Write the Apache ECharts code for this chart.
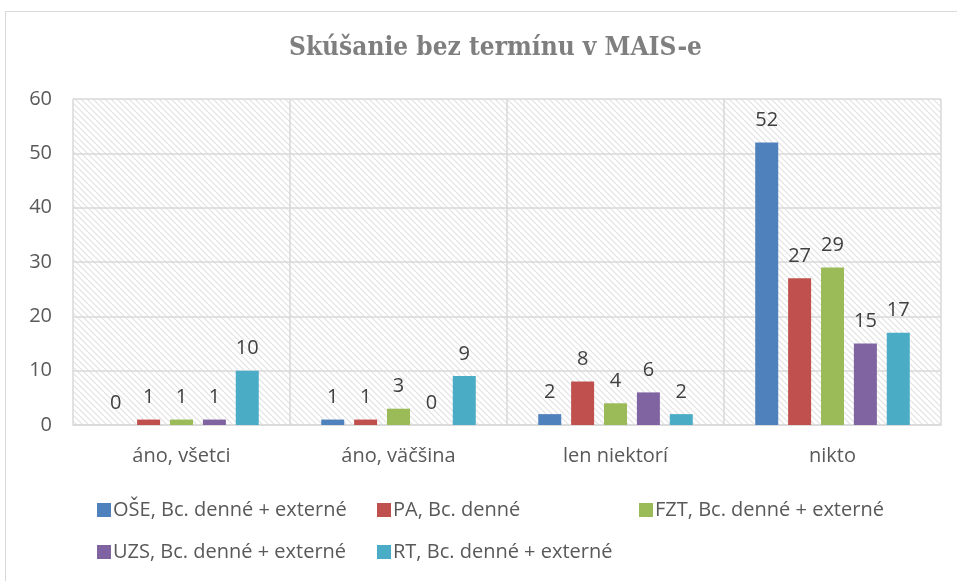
<!DOCTYPE html>
<html>
<head>
<meta charset="utf-8">
<script src="https://cdn.jsdelivr.net/npm/echarts@6/dist/echarts.min.js"></script>
<style>
  html, body { margin: 0; padding: 0; background: #fff; }
  #chart { width: 957px; height: 581px; }
  #frame { position: absolute; left: 5px; top: 11px; width: 960px; height: 600px; border: 1px solid #d9d9d9; box-sizing: border-box; pointer-events: none; }
</style>
</head>
<body>
<div id="chart"></div>
<div id="frame"></div>
<script>
const categories = ["áno, všetci", "áno, väčšina", "len niektorí", "nikto"];
const seriesNames = [
  "OŠE, Bc. denné + externé",
  "PA, Bc. denné",
  "FZT, Bc. denné + externé",
  "UZS, Bc. denné + externé",
  "RT, Bc. denné + externé"
];
const oseValues = [0, 1, 2, 52];
const paValues = [1, 1, 8, 27];
const fztValues = [1, 3, 4, 29];
const uzsValues = [1, 0, 6, 15];
const rtValues = [10, 9, 2, 17];
const colors = ["#4f81bd", "#c0504d", "#9bbb59", "#8064a2", "#4bacc6"];

// diagonal hatch for the plot area
const tile = document.createElement("canvas");
tile.width = 6;
tile.height = 6;
const ctx = tile.getContext("2d");
ctx.fillStyle = "#ffffff";
ctx.fillRect(0, 0, 6, 6);
ctx.strokeStyle = "#e2e2e2";
ctx.lineWidth = 1.2;
ctx.beginPath();
ctx.moveTo(-1, -1); ctx.lineTo(7, 7);
ctx.moveTo(-4, 2); ctx.lineTo(4, 10);
ctx.moveTo(2, -4); ctx.lineTo(10, 4);
ctx.stroke();

const allValues = [oseValues, paValues, fztValues, uzsValues, rtValues];
const font = "'Open Sans', sans-serif";

const series = allValues.map((vals, i) => ({
  name: seriesNames[i],
  type: "bar",
  data: vals,
  barWidth: 23,
  barGap: "43%",
  itemStyle: { color: colors[i] },
  label: {
    show: true,
    position: "top",
    distance: 12,
    fontSize: 20,
    fontFamily: font,
    color: "#404040"
  }
}));

const legendPos = [[92, 495], [372, 495], [634, 495], [92, 537], [372, 537]];
const legends = seriesNames.map((n, i) => ({
  data: [n],
  left: legendPos[i][0],
  top: legendPos[i][1],
  itemWidth: 14,
  itemHeight: 14,
  itemGap: 4,
  icon: "rect",
  textStyle: { fontSize: 20, fontFamily: font, color: "#595959", padding: [0, 0, 0, -3] }
}));

const chart = echarts.init(document.getElementById("chart"));
chart.setOption({
  animation: false,
  title: {
    text: "Skúšanie bez termínu v MAIS-e",
    left: 284,
    top: 30,
    textStyle: { fontSize: 26, fontWeight: "bold", fontFamily: "'DejaVu Serif Condensed', 'Liberation Serif', serif", color: "#7f7f7f" }
  },
  legend: legends,
  grid: {
    left: 73, right: 16, top: 99, bottom: 156,
    show: true,
    borderWidth: 0,
    backgroundColor: { image: tile, repeat: "repeat" }
  },
  xAxis: {
    type: "category",
    data: categories,
    axisTick: { show: false },
    axisLine: { lineStyle: { color: "#d9d9d9", width: 1.5 } },
    splitLine: { show: true, lineStyle: { color: "#d9d9d9", width: 1.5 } },
    axisLabel: { fontSize: 20, fontFamily: font, color: "#595959", margin: 21 }
  },
  yAxis: {
    type: "value",
    min: 0,
    max: 60,
    interval: 10,
    axisLine: { show: false },
    axisTick: { show: false },
    splitLine: { lineStyle: { color: "#d9d9d9", width: 1.5 } },
    axisLabel: { fontSize: 20, fontFamily: font, color: "#595959", margin: 21 }
  },
  series: series
});
</script>
</body>
</html>
